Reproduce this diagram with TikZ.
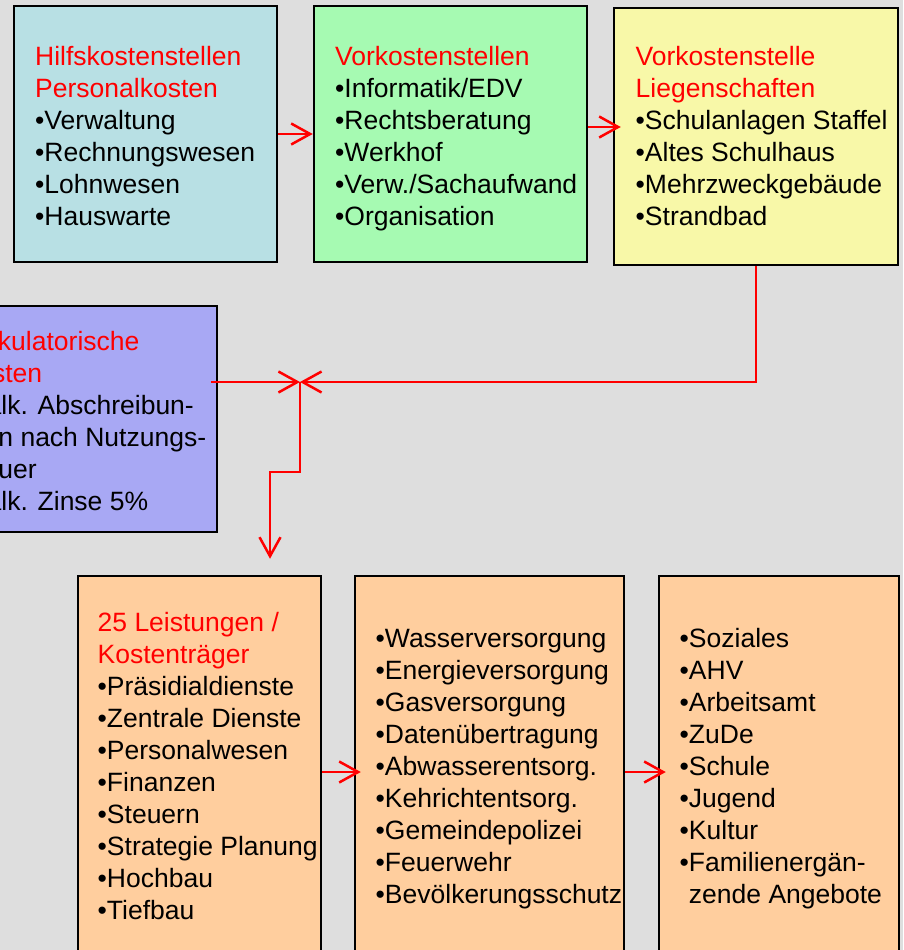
\documentclass[tikz,border=0pt]{standalone}
\usepackage{fontspec}
\setmainfont{Liberation Sans}
\usetikzlibrary{arrows.meta}
\definecolor{bggrau}{RGB}{222,222,222}
\definecolor{hellblau}{RGB}{184,224,228}
\definecolor{hellgruen}{RGB}{166,250,178}
\definecolor{hellgelb}{RGB}{248,248,168}
\definecolor{lila}{RGB}{168,168,244}
\definecolor{pfirsich}{RGB}{255,206,158}
\newcommand{\titel}[1]{\textcolor{red}{#1}}
\begin{document}
\begin{tikzpicture}[x=1pt,y=-1pt,
    kasten/.style={draw=black,line width=2.5pt,inner sep=0pt},
    txt/.style={anchor=north west,inner sep=0pt,align=left,font=\fontsize{26.5}{32}\selectfont},
    pfeil/.style={draw=red,line width=2.5pt,-{Straight Barb[length=19pt,width=21pt]}}]
  \useasboundingbox (0,0) rectangle (903,950);
  \clip (0,0) rectangle (903,950);
  \fill[bggrau] (0,0) rectangle (903,950);

  % obere Reihe
  \node[kasten,fill=hellblau,minimum width=263pt,minimum height=256pt] (hilf) at (145.5,134) {};
  \node[kasten,fill=hellgruen,minimum width=273pt,minimum height=256pt] (vork) at (450.5,134) {};
  \node[kasten,fill=hellgelb,minimum width=284pt,minimum height=257pt] (lieg) at (756,136.5) {};
  \node[txt] (hilftxt) at (35,41) {\rule{0pt}{24pt}\titel{Hilfskostenstellen}\\ \titel{Personalkosten}\\ •Verwaltung\\ •Rechnungswesen\\ •Lohnwesen\\ •Hauswarte};
  \node[txt] (vorktxt) at (335,41) {\rule{0pt}{24pt}\titel{Vorkostenstellen}\\ •Informatik/EDV\\ •Rechtsberatung\\ •Werkhof\\ •Verw./Sachaufwand\\ •Organisation};
  \node[txt] (liegtxt) at (635.5,41) {\rule{0pt}{24pt}\titel{Vorkostenstelle}\\ \titel{Liegenschaften}\\ •Schulanlagen Staffel\\ •Altes Schulhaus\\ •Mehrzweckgebäude\\ •Strandbad};

  % Kalkulatorische Kosten
  \node[kasten,fill=lila,minimum width=277pt,minimum height=226pt] (kalk) at (78.5,419) {};
  \node[txt] (kalktxt) at (-40.5,326) {\rule{0pt}{24pt}\titel{Kalkulatorische}\\ \titel{Kosten}\\ •Kalk. Abschreibun-\\ \phantom{•}gen nach Nutzungs-\\ \phantom{•}dauer\\ •Kalk. Zinse 5\%};

  % untere Reihe
  \node[kasten,fill=pfirsich,minimum width=243pt,minimum height=380pt] (leist) at (199.5,766) {};
  \node[kasten,fill=pfirsich,minimum width=269pt,minimum height=380pt] (vers) at (489.5,766) {};
  \node[kasten,fill=pfirsich,minimum width=240pt,minimum height=380pt] (soz) at (779,766) {};
  \node[txt] (leisttxt) at (97.5,607) {\rule{0pt}{24pt}\titel{25 Leistungen /}\\ \titel{Kostenträger}\\ •Präsidialdienste\\ •Zentrale Dienste\\ •Personalwesen\\ •Finanzen\\ •Steuern\\ •Strategie Planung\\ •Hochbau\\ •Tiefbau};
  \node[txt] (verstxt) at (375.5,623) {\rule{0pt}{24pt}•Wasserversorgung\\ •Energieversorgung\\ •Gasversorgung\\ •Datenübertragung\\ •Abwasserentsorg.\\ •Kehrichtentsorg.\\ •Gemeindepolizei\\ •Feuerwehr\\ •Bevölkerungsschutz};
  \node[txt] (soztxt) at (679.5,623) {\rule{0pt}{24pt}•Soziales\\ •AHV\\ •Arbeitsamt\\ •ZuDe\\ •Schule\\ •Jugend\\ •Kultur\\ •Familienergän-\\ \phantom{•}zende Angebote};

  % Pfeile
  \coordinate (junc) at (300,382);
  \coordinate (knick) at (270,472);
  \draw[pfeil] (hilf.east) -- (vork.west);
  \draw[pfeil,shorten >=-8pt] ([yshift=7pt]vork.east) -- ([yshift=7pt]vork.east -| lieg.west);
  \draw[pfeil] (lieg.south) |- (junc);
  \draw[pfeil] ([xshift=-7pt]kalk.east |- junc) -- (junc);
  \draw[pfeil,shorten >=16pt] (junc) |- (knick) -- (knick |- leist.north);
  \draw[pfeil,shorten >=-7pt] ([yshift=-6pt]leist.east) -- ([yshift=-6pt]leist.east -| vers.west);
  \draw[pfeil,shorten >=-8pt] ([yshift=-6pt]vers.east) -- ([yshift=-6pt]vers.east -| soz.west);
\end{tikzpicture}
\end{document}
